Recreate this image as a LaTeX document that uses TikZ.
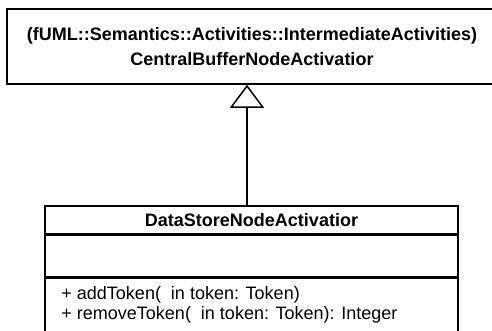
\documentclass[tikz,border=0pt]{standalone}
\usepackage{fontspec}
\setmainfont{Liberation Sans}
\usetikzlibrary{arrows.meta, positioning}

\begin{document}
\begin{tikzpicture}[
x=1pt, y=1pt,
classbox/.style={draw, line width=1.5pt, rectangle, inner sep=0pt},
inherit/.style={-{Triangle[open, length=23pt, width=34pt]}, line width=1.5pt}
]
\useasboundingbox (0,0) rectangle (492,-330);

\node[classbox, minimum width=490pt, minimum height=75pt, align=center,
  font=\fontsize{18}{25}\selectfont\bfseries] (CB) at (252,-46.5)
  {(fUML::Semantics::Activities::IntermediateActivities)\\CentralBufferNodeActivatior};

\node[classbox, minimum width=413pt, minimum height=28pt,
  font=\fontsize{18}{20}\selectfont\bfseries] (DS) at (251.5,-220) {DataStoreNodeActivatior};
\node[classbox, minimum width=413pt, minimum height=41pt, below=0pt of DS] (DSattr) {};
\node[classbox, minimum width=413pt, minimum height=70pt, below=0pt of DSattr] (DSops) {};
\node[anchor=north west, align=left, inner sep=0pt, font=\fontsize{18}{20}\selectfont]
  (ops) at ([xshift=17pt,yshift=-9pt]DSops.north west)
  {+ addToken(~ in token: Token)\\+ removeToken(~ in token: Token): Integer};

\draw[inherit] ([xshift=-4.5pt]DS.north) -- ([xshift=-4.5pt]DS.north |- CB.south);

\end{tikzpicture}
\end{document}
